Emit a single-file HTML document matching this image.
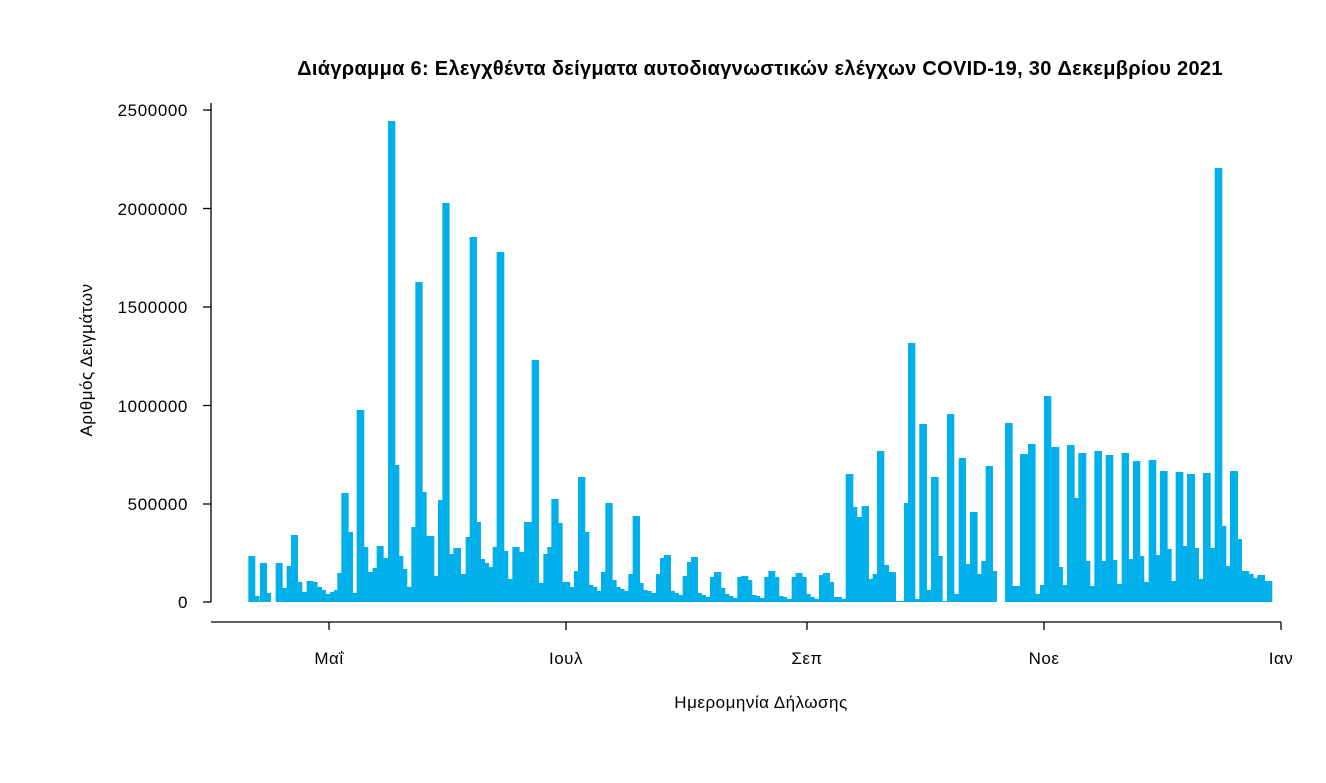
<!DOCTYPE html>
<html><head><meta charset="utf-8"><style>
body{margin:0;background:#fff;}
svg text{font-family:"Liberation Sans","DejaVu Sans",sans-serif;fill:#000;}
</style></head><body>
<svg id="s" width="1326" height="778" xmlns="http://www.w3.org/2000/svg">
<text x="760" y="75" text-anchor="middle" font-size="20" font-weight="bold" letter-spacing="0.3">Διάγραμμα 6: Ελεγχθέντα δείγματα αυτοδιαγνωστικών ελέγχων COVID-19, 30 Δεκεμβρίου 2021</text>
<g id="bars" fill="#00b0ea"></g>
<g stroke="#000" stroke-width="1.3" fill="none">
<line x1="211" y1="103" x2="211" y2="602"/>
<line x1="203" y1="110" x2="211" y2="110"/>
<line x1="203" y1="208.5" x2="211" y2="208.5"/>
<line x1="203" y1="307" x2="211" y2="307"/>
<line x1="203" y1="405.5" x2="211" y2="405.5"/>
<line x1="203" y1="504" x2="211" y2="504"/>
<line x1="203" y1="602" x2="211" y2="602"/>
<line x1="211" y1="622" x2="1281" y2="622"/>
<line x1="329" y1="622" x2="329" y2="630"/>
<line x1="566" y1="622" x2="566" y2="630"/>
<line x1="807" y1="622" x2="807" y2="630"/>
<line x1="1044" y1="622" x2="1044" y2="630"/>
<line x1="1281" y1="622" x2="1281" y2="630"/>
</g>
<g font-size="17" text-anchor="end" letter-spacing="0.6">
<text x="188" y="116">2500000</text>
<text x="188" y="215">2000000</text>
<text x="188" y="313">1500000</text>
<text x="188" y="412">1000000</text>
<text x="188" y="510">500000</text>
<text x="188" y="608">0</text>
</g>
<g font-size="17" text-anchor="middle" letter-spacing="0.5">
<text x="329" y="664">Μαΐ</text>
<text x="566" y="664">Ιουλ</text>
<text x="807" y="664">Σεπ</text>
<text x="1044" y="664">Νοε</text>
<text x="1281" y="664">Ιαν</text>
<text x="761" y="708">Ημερομηνία Δήλωσης</text>
<text transform="translate(92,360) rotate(-90)">Αριθμός Δειγμάτων</text>
</g>
</svg>
<script>
var z1=[[25,45,556],[45,58,596],[60,80,563],[80,92,593],[107,127,563],[127,140,588],[140,153,566],[153,173,535],[173,186,582],[186,200,592],[200,220,581],[220,232,582],[232,245,587],[245,257,590],[257,270,594],[270,282,592],[282,292,590],[292,304,573],[304,325,493],[325,338,532],[338,350,593],[350,372,410],[372,384,547],[384,398,572],[398,410,568],[410,430,546],[430,444,558],[444,465,121],[465,477,465],[477,489,556],[489,501,569],[501,514,587],[514,526,527],[526,547,282],[547,559,492],[559,582,536],[582,594,576],[594,607,500],[607,628,203],[628,640,554],[640,662,548],[662,677,574],[677,689,537],[689,710,237],[710,722,522],[722,734,559],[734,746,563],[746,758,567],[758,770,547],[770,792,252],[792,804,551],[804,817,579],[817,838,547],[838,852,552],[852,875,522],[875,896,360],[896,910,583],[910,922,554],[922,934,547],[934,955,499],[955,967,523],[967,990,582],[990,1002,587],[1002,1015,571]];
var z2=[[54,75,477],[75,87,532],[87,99,585],[99,111,587],[111,123,591],[123,136,572],[136,157,503],[157,169,580],[169,181,587],[181,193,589],[193,205,591],[205,218,574],[218,239,516],[239,250,583],[250,262,590],[262,274,591],[274,288,593],[288,300,574],[300,312,558],[312,332,555],[332,344,591],[344,356,593],[356,368,595],[368,381,576],[381,393,562],[393,413,557],[413,425,593],[425,437,595],[437,450,597],[450,462,577],[462,483,572],[483,495,588],[495,507,594],[507,519,596],[519,532,598],[532,544,577],[544,564,576],[564,576,580],[576,588,595],[588,600,596],[600,613,598],[613,625,577],[625,645,571],[645,657,577],[657,669,596],[669,681,597],[681,695,599],[695,707,577],[707,727,573],[727,739,577],[739,751,594],[751,763,597],[763,777,599],[777,789,575],[789,809,573],[809,821,582],[821,845,597],[845,857,599]];
var z3=[[17,39,474],[39,51,507],[51,65,517],[65,86,506],[86,98,579],[98,111,574],[111,132,451],[132,146,565],[146,167,572],[167,180,601],[180,192,601],[192,204,503],[204,225,343],[225,238,599],[238,260,424],[260,273,590],[273,295,477],[295,307,556],[307,321,601],[321,342,414],[342,356,594],[356,377,458],[377,390,564],[390,412,512],[412,424,574],[424,437,561],[437,458,466],[458,470,571],[495,517,423],[517,540,586],[540,564,454],[564,586,444],[586,600,594],[600,612,585],[612,633,396],[633,657,447],[657,668,567],[668,681,585],[681,703,445],[703,715,498],[715,738,453],[738,750,561],[750,763,586],[763,785,451],[785,797,561],[797,819,455],[819,831,560],[831,845,584],[845,866,453],[866,879,559],[879,900,461],[900,912,556],[912,926,582],[926,948,460],[948,960,555],[960,982,471],[982,994,549],[994,1007,581],[1007,1029,472],[1029,1041,546],[1041,1064,474],[1064,1076,548],[1076,1089,579],[1089,1111,473],[1111,1124,548],[1124,1146,168],[1146,1158,526],[1158,1170,566],[1170,1193,471],[1193,1205,539],[1205,1227,571],[1227,1240,574],[1240,1252,578],[1252,1274,575],[1274,1296,581]];
var out='';
function add(a,ox){a.forEach(function(b){var x0=ox+b[0]/3,x1=ox+b[1]/3;out+='<rect x="'+x0.toFixed(2)+'" y="'+b[2]+'" width="'+(x1-x0+0.3).toFixed(2)+'" height="'+(602-b[2])+'"/>';});}
add(z1,240);add(z2,560);add(z3,840);
document.getElementById('bars').innerHTML=out;
</script>
</body></html>
